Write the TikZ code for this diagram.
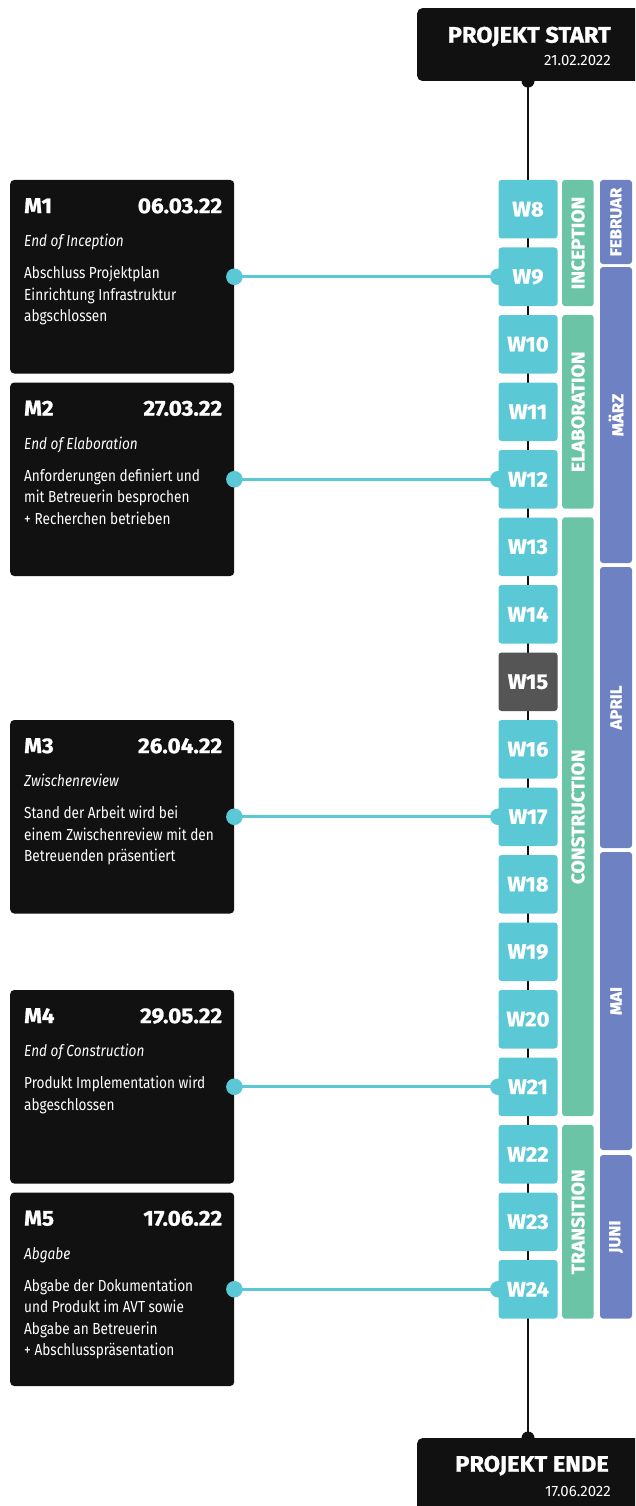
\documentclass[tikz,border=0pt]{standalone}
\usepackage{fontspec}
\setmainfont{Fira Sans}[FakeStretch=0.85]
\newfontfamily\headfont{Fira Sans}[FakeStretch=1.05, BoldFeatures={FakeBold=1}]
\newfontfamily\datefont{Fira Sans}
\usetikzlibrary{positioning, calc, fit, backgrounds}
\definecolor{capBlack}{HTML}{111111}
\definecolor{weekCyan}{HTML}{5BC8D5}
\definecolor{weekGrey}{HTML}{555555}
\definecolor{phaseGreen}{HTML}{6BC4A6}
\definecolor{monthBlue}{HTML}{6E82C3}
\tikzset{
  capbox/.style={fill=capBlack, rounded corners=5pt, inner sep=0pt},
  captitle/.style={font=\headfont\bfseries\fontsize{22.5}{22.5}\selectfont, text=white, inner sep=0pt},
  capdate/.style={font=\datefont\fontsize{15}{15}\selectfont, text=white, inner sep=0pt},
  milebox/.style={fill=capBlack, rounded corners=4pt, inner sep=0pt,
    minimum width=224, minimum height=193.5},
  miletitle/.style={font=\headfont\bfseries\fontsize{21.5}{21.5}\selectfont, text=white, inner sep=0pt},
  milesub/.style={font=\itshape\fontsize{16}{16}\selectfont, text=white, inner sep=0pt},
  milebody/.style={font=\fontsize{16}{21.5}\selectfont, text=white, inner sep=0pt, align=left},
  weekbox/.style={rounded corners=3pt, minimum width=59, minimum height=58.5, inner sep=0pt,
    font=\headfont\bfseries\fontsize{21}{21}\selectfont, text=white},
  phasebar/.style={fill=phaseGreen, rounded corners=3pt, inner sep=0pt},
  monthbar/.style={fill=monthBlue, rounded corners=3pt, inner sep=0pt},
  bartext/.style={rotate=90, text=white, inner sep=0pt},
  spine/.style={draw=capBlack, line width=2.5pt},
  link/.style={draw=weekCyan, line width=3pt},
  linkdot/.style={circle, fill=weekCyan, minimum size=16.6, inner sep=0pt},
}

\begin{document}
\begin{tikzpicture}[x=1pt, y=-1pt]
  \clip (0,0) rectangle (635,1506);

  % === Start and end caps ===
  \node[capbox, anchor=north west, minimum width=230, minimum height=72.7] (start) at (417,8) {};
  \node[captitle, anchor=base east] at ($(start.north west)+(194,34.7)$) {PROJEKT START};
  \node[capdate, anchor=base east] at ($(start.north west)+(194,58)$) {21.02.2022};

  \node[capbox, anchor=north west, minimum width=230, minimum height=80] (ende) at (417,1438) {};
  \node[captitle, anchor=base east] at ($(ende.north west)+(192,33.7)$) {PROJEKT ENDE};
  \node[capdate, anchor=base east] at ($(ende.north west)+(194,58)$) {17.06.2022};

  % === Weeks ===
  \foreach \w in {8,...,24} {
    \ifnum\w=15 \def\wfill{weekGrey}\else\def\wfill{weekCyan}\fi
    \node[weekbox, fill=\wfill] (w\w) at (528, {209.25+(\w-8)*67.5}) {W\w};
  }

  % Spine behind the weeks
  \begin{scope}[on background layer]
    \draw[spine] (w8 |- start.south) -- (w8 |- ende.north);
  \end{scope}
  \fill[capBlack] (w8 |- start.south) circle (6.5);
  \fill[capBlack] (w8 |- ende.north) circle (6.5);

  % === Phases ===
  \foreach \lab/\a/\b in {INCEPTION/8/9, ELABORATION/10/12, CONSTRUCTION/13/21, TRANSITION/22/24} {
    \node[phasebar, fit={([xshift=4.5]w\a.north east) ([xshift=36]w\b.south east)}] (ph\a) {};
    \node[bartext, font=\headfont\bfseries\fontsize{18.3}{18.3}\selectfont] at (ph\a) {\lab};
  }

  % === Months ===
  \foreach \lab/\ya/\yb [count=\i] in {FEBRUAR/180/264, MÄRZ/267/563, APRIL/567/848, MAI/852/1150, JUNI/1155/1318.5} {
    \node[monthbar, fit={(600,\ya) (632,\yb)}] (mo\i) {};
    \node[bartext, font=\headfont\bfseries\fontsize{16}{16}\selectfont] at (mo\i) {\lab};
  }

  % === Milestones ===
  \coordinate (left) at (10,0);
  \foreach \m/\top/\link/\date/\sub/\body in {
    M1/8/9/06.03.22/End of Inception/{Abschluss Projektplan\\Einrichtung Infrastruktur\\abgschlossen},
    M2/11/12/27.03.22/End of Elaboration/{Anforderungen definiert und\\mit Betreuerin besprochen\\+ Recherchen betrieben},
    M3/16/17/26.04.22/Zwischenreview/{Stand der Arbeit wird bei\\einem Zwischenreview mit den\\Betreuenden präsentiert},
    M4/20/21/29.05.22/End of Construction/{Produkt Implementation wird\\abgeschlossen},
    M5/23/24/17.06.22/Abgabe/{Abgabe der Dokumentation\\und Produkt im AVT sowie\\Abgabe an Betreuerin\\+ Abschlusspräsentation}} {
    \node[milebox, anchor=north west] (\m) at (w\top.north -| left) {};
    \node[miletitle, anchor=base west] at ($(\m.north west)+(14,33.3)$) {\m};
    \node[miletitle, anchor=base east] at ($(\m.north east)+(-12,33.3)$) {\date};
    \node[milesub, anchor=base west] at ($(\m.north west)+(14,67)$) {\sub};
    \node[milebody, anchor=north west] at ($(\m.north west)+(14,86.3)$) {\body};
    % connector to its week
    \begin{scope}[on background layer]
      \draw[link] (\m.east |- w\link) -- (w\link.west);
      \node[linkdot] at (w\link.west) {};
    \end{scope}
    \node[linkdot] at (\m.east |- w\link) {};
  }

\end{tikzpicture}
\end{document}
